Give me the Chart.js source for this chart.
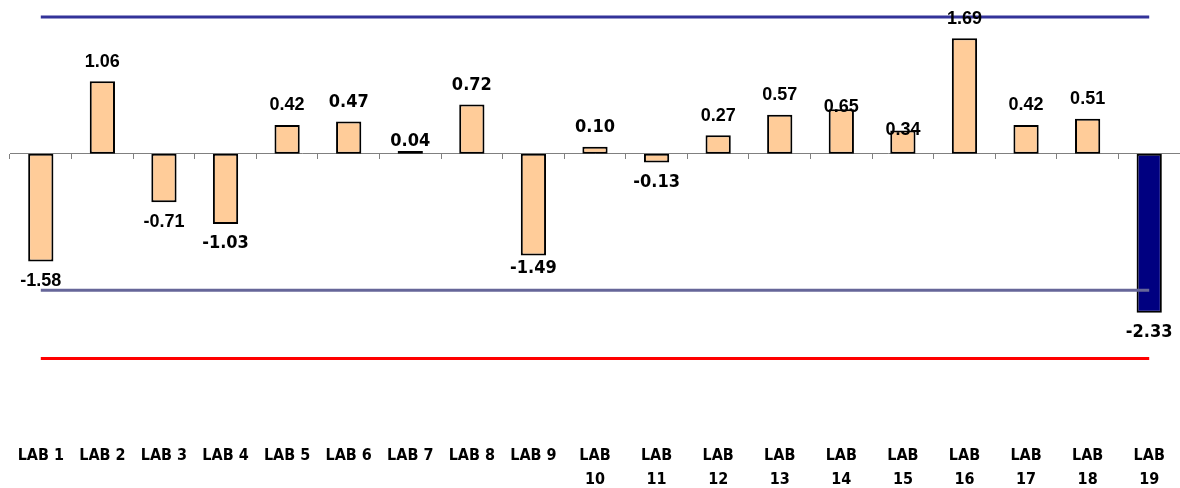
<!DOCTYPE html>
<html>
<head>
<meta charset="utf-8">
<script src="https://cdn.jsdelivr.net/npm/chart.js@4/dist/chart.umd.min.js"></script>
<style>
  html, body { margin: 0; padding: 0; background: #ffffff; }
  #wrap { width: 1180px; height: 488px; position: relative; }
</style>
</head>
<body>
<div id="wrap"><canvas id="chart"></canvas></div>
<script>
// Laboratory z-scores
const categories = ['LAB 1', 'LAB 2', 'LAB 3', 'LAB 4', 'LAB 5', 'LAB 6', 'LAB 7', 'LAB 8', 'LAB 9', 'LAB 10',
                    'LAB 11', 'LAB 12', 'LAB 13', 'LAB 14', 'LAB 15', 'LAB 16', 'LAB 17', 'LAB 18', 'LAB 19'];
const zScores = [-1.58, 1.06, -0.71, -1.03, 0.42, 0.47, 0.04, 0.72, -1.49, 0.10,
                 -0.13, 0.27, 0.57, 0.65, 0.34, 1.69, 0.42, 0.51, -2.33];

// Limit lines
const upperLimit = 2;
const lowerWarning = -2;
const lowerAction = -3;

// Value range of the vertical scale
const yMin = -4.25;
const yMax = 2.25;

// Styling
const BAR_FILL = '#ffcc99';
const BAR_OUT = '#000080';
const LABEL_GAP = 19.5;                       // distance from bar end to label centre
const labelGapOverride = { 6: 10, 8: 13, 13: 2.5, 14: 0.5 };
const condensedLabels = new Set([3, 5, 6, 7, 8, 9, 10, 18]);

const barColors = zScores.map(v => Math.abs(v) > 2 ? BAR_OUT : BAR_FILL);
const flat = v => categories.map(() => v);

// Value labels at the end of each bar
const valueLabels = {
  id: 'valueLabels',
  afterDatasetsDraw(chart) {
    const idx = chart.data.datasets.findIndex(ds => ds.type === 'bar');
    const meta = chart.getDatasetMeta(idx);
    const ctx = chart.ctx;
    ctx.save();
    ctx.fillStyle = '#000000';
    ctx.textAlign = 'center';
    ctx.textBaseline = 'middle';
    meta.data.forEach((bar, i) => {
      const v = zScores[i];
      const gap = labelGapOverride[i] !== undefined ? labelGapOverride[i] : LABEL_GAP;
      const y = v >= 0 ? bar.y - gap : bar.y + gap;
      ctx.font = condensedLabels.has(i)
        ? 'bold 18px "DejaVu Sans Condensed", "DejaVu Sans", sans-serif'
        : 'bold 18px "Liberation Sans", Arial, sans-serif';
      ctx.fillText(v.toFixed(2), bar.x, y);
    });
    ctx.restore();
  }
};

new Chart(document.getElementById('chart'), {
  type: 'bar',
  data: {
    labels: categories,
    datasets: [
      {
        type: 'line',
        data: flat(upperLimit),
        borderColor: '#333399',
        borderWidth: 3,
        pointRadius: 0,
        fill: false,
        order: 0
      },
      {
        type: 'line',
        data: flat(lowerWarning),
        borderColor: '#666699',
        borderWidth: 3,
        pointRadius: 0,
        fill: false,
        order: 0
      },
      {
        type: 'line',
        data: flat(lowerAction),
        borderColor: '#ff0000',
        borderWidth: 3,
        pointRadius: 0,
        fill: false,
        order: 0
      },
      {
        type: 'bar',
        data: zScores,
        backgroundColor: barColors,
        borderColor: '#000000',
        borderWidth: 2,
        borderSkipped: false,
        barPercentage: 0.41,
        categoryPercentage: 1,
        order: 1
      }
    ]
  },
  options: {
    responsive: true,
    maintainAspectRatio: false,
    animation: false,
    devicePixelRatio: 1,
    layout: { padding: { left: 10, right: 0, top: 0, bottom: 0 } },
    plugins: {
      legend: { display: false },
      tooltip: { enabled: false },
      title: { display: false }
    },
    scales: {
      x: {
        type: 'category',
        position: 'bottom',
        offset: true,
        grid: { display: false },
        border: { display: false },
        ticks: {
          padding: -8,
          autoSkip: false,
          maxRotation: 0,
          minRotation: 0,
          color: '#000000',
          font: { family: '"DejaVu Sans Condensed", "DejaVu Sans", sans-serif', size: 16, weight: 'bold', lineHeight: 1.5 },
          callback: (val, i) => categories[i].length > 5 ? categories[i].split(' ') : categories[i]
        },
        afterFit: (scale) => { scale.height = 44; }
      },
      xZero: {
        type: 'category',
        axis: 'x',
        labels: categories,
        position: { y: 0 },
        offset: true,
        grid: {
          display: true,
          offset: true,
          drawOnChartArea: false,
          drawTicks: true,
          tickLength: 5,
          tickWidth: 1,
          color: '#808080'
        },
        border: { display: true, color: '#808080', width: 1 },
        ticks: { display: false }
      },
      y: {
        display: false,
        min: yMin,
        max: yMax
      }
    }
  },
  plugins: [valueLabels]
});
</script>
</body>
</html>
